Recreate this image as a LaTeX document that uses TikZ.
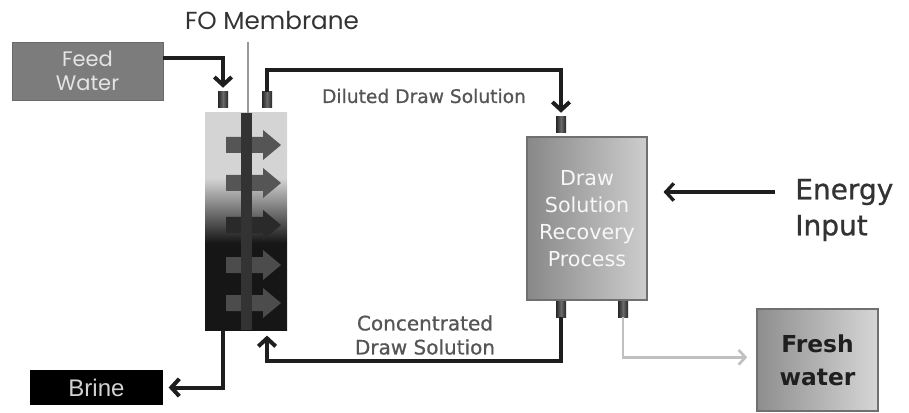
\documentclass[tikz,border=0pt]{standalone}
\usepackage{fontspec}
\setmainfont{DejaVu Sans}
\newfontfamily\popp{Poppins}
\newfontfamily\lib{Liberation Sans}
\newfontfamily\dvb[FakeBold=0.8]{DejaVu Sans}
\usetikzlibrary{arrows.meta}
\definecolor{linec}{HTML}{1E1E1E}
\definecolor{feedc}{HTML}{7C7C7C}
\definecolor{feedb}{HTML}{6A6A6A}
\definecolor{feedt}{HTML}{E4E4E4}
\definecolor{mdark}{HTML}{161616}
\definecolor{mmid}{HTML}{6E6E6E}
\definecolor{mlight}{HTML}{D4D4D4}
\definecolor{barc}{HTML}{333333}
\definecolor{arrg}{HTML}{555555}
\definecolor{arrd}{HTML}{2A2A2A}
\definecolor{dsl}{HTML}{888888}
\definecolor{dsr}{HTML}{CDCDCD}
\definecolor{dsb}{HTML}{707070}
\definecolor{frl}{HTML}{8E8E8E}
\definecolor{frr}{HTML}{D6D6D6}
\definecolor{portd}{HTML}{262626}
\definecolor{portl}{HTML}{6A6A6A}
\definecolor{txtd}{HTML}{333333}
\definecolor{txtm}{HTML}{555555}
\definecolor{freshl}{HTML}{C0C0C0}
\pgfdeclareverticalshading{modsh}{100bp}{color(0bp)=(mdark); color(25bp)=(mdark); color(45bp)=(mdark); color(52bp)=(mmid); color(60bp)=(mlight); color(75bp)=(mlight); color(100bp)=(mlight)}
\begin{document}
\begin{tikzpicture}[x=0.75pt,y=-0.75pt,
  conn/.style={line width=3pt, draw=linec, -{Straight Barb[length=6pt,width=13pt]}},
  freshln/.style={line width=2pt, draw=freshl, -{Straight Barb[length=5pt,width=11pt]}},
  port/.style={minimum width=7.5pt, minimum height=12pt, inner sep=0pt, left color=portd, right color=portd, middle color=portl},
  membl/.style={draw=gray!80, line width=0.8pt}]
\useasboundingbox (0,0) rectangle (909,413);

% boxes
\node[fill=feedc, draw=feedb, minimum width=113.25pt, minimum height=43.5pt, inner sep=0pt,
  text=feedt, font=\popp\fontsize{15.75pt}{18pt}\selectfont, align=center] (feed) at (87.5,71) {Feed\\Water};
\node[fill=black, minimum width=99.75pt, minimum height=26.25pt, inner sep=0pt,
  text=white!82!black, font=\lib\fontsize{18pt}{20pt}\selectfont] (brine) at (96.5,387.5) {Brine};
\node[shading=modsh, minimum width=61.5pt, minimum height=162.75pt, inner sep=0pt] (module) at (246,221.5) {};
\foreach \yy/\cc in {145/arrg,183/arrg,225/arrd,265/arrg!90!black,303/arrg!90!black}{
  \fill[\cc] (226,\yy-8) -- (263,\yy-8) -- (263,\yy-15) -- (281,\yy) -- (263,\yy+15) -- (263,\yy+8) -- (226,\yy+8) -- cycle;
}
\fill[barc] (241,113) rectangle (252,330);
\node[left color=dsl, right color=dsr, draw=dsb, line width=0.8pt, minimum width=90pt, minimum height=122.25pt, inner sep=0pt,
  text=white!94!gray, font=\fontsize{15.5pt}{20.25pt}\selectfont, align=center] (dsrp) at (587,218.5) {Draw\\Solution\\Recovery\\Process};
\node[left color=frl, right color=frr, draw=dsb, line width=0.8pt, minimum width=90.75pt, minimum height=76.5pt, inner sep=0pt,
  text=black!88, font=\bfseries\fontsize{17.5pt}{24.75pt}\selectfont, align=center] (fresh) at (817.5,360) {Fresh\\water};

% ports
\node[port] (pF) at (223,100) {};
\node[port] (pD) at (267,100) {};
\node[port] (pDin) at (561,125) {};
\node[port] (pC) at (561,309) {};
\node[port] (pW) at (623,309) {};

% labels
\node[text=txtd, font=\popp\fontsize{18.5pt}{20pt}\selectfont] (fo) at (272,20) {FO Membrane};
\node[text=txtm, font=\dvb\fontsize{14pt}{16pt}\selectfont] (dil) at (424,96) {Diluted Draw Solution};
\node[text=txtm, font=\dvb\fontsize{15pt}{18pt}\selectfont, align=center] (conc) at (425,335) {Concentrated\\Draw Solution};
\node[anchor=west, text=txtd, font=\dvb\fontsize{21pt}{27pt}\selectfont, align=left, inner sep=0pt] (energy) at (795,210) {Energy\\Input};

% membrane line
\coordinate (mt) at (248,42);
\draw[membl] (mt) -- (mt |- module.north);

% connectors
\draw[conn] (feed.east) ++(0,-13) -| ([yshift=3pt]pF.north);
\draw[conn] (pD.north) -- ++(0,-22) -| ([yshift=3pt]pDin.north);
\draw[conn] (pC.south) -- ++(0,44) -| ([yshift=-4pt]module.south -| pD.center);
\draw[conn] (module.south -| pF.center) |- ([xshift=4pt]brine.east);
\draw[freshln] (pW.south) |- ([xshift=-7pt,yshift=2pt]fresh.west);
\coordinate (ein) at (775,192);
\draw[conn, line width=2.5pt] (ein) -- ([xshift=12pt]dsrp.east |- ein);
\end{tikzpicture}
\end{document}
